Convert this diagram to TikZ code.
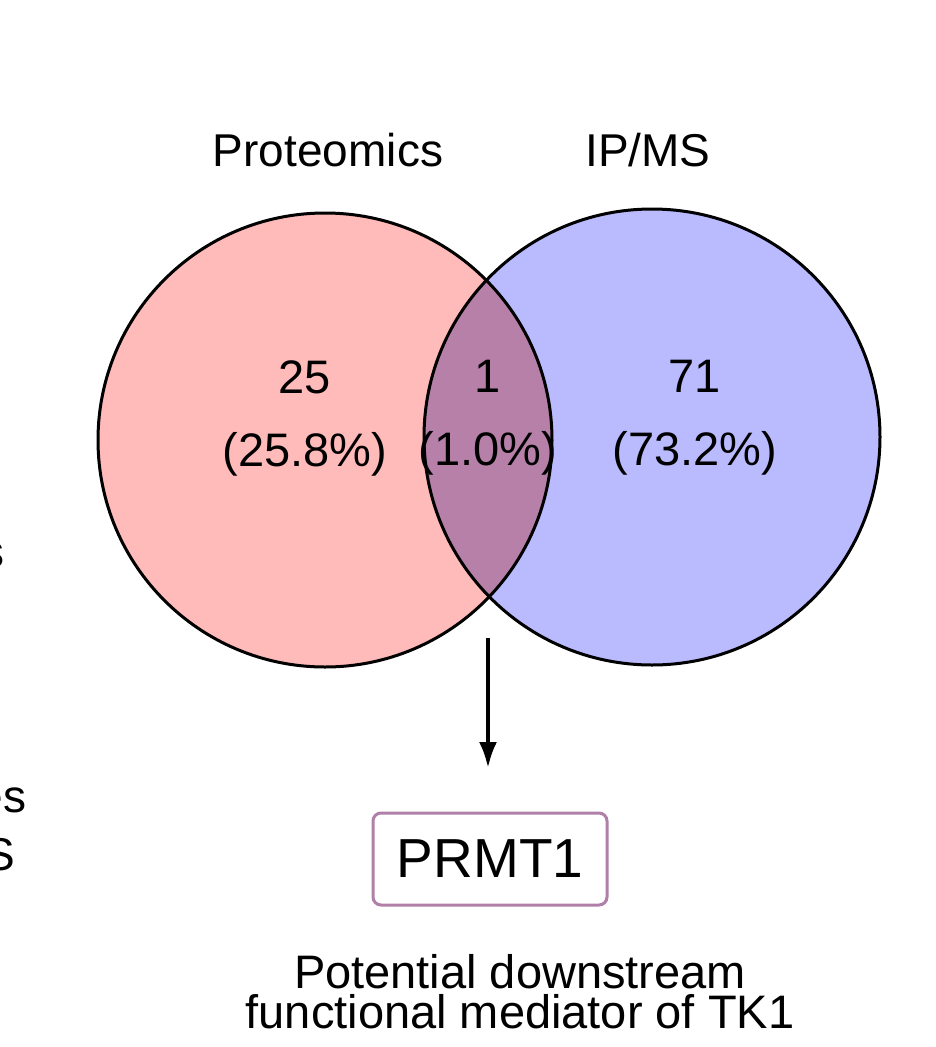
\documentclass[tikz,border=0pt]{standalone}
\usepackage{fontspec}
\setmainfont{Liberation Sans}
\usetikzlibrary{arrows.meta}
\begin{document}
\begin{tikzpicture}[x=1pt,y=-1pt,
  lab/.style={font=\fontsize{46}{50}\selectfont},
  num/.style={font=\fontsize{47}{73}\selectfont,align=center},
  frag/.style={anchor=east,font=\fontsize{46}{50}\selectfont},
  circ/.style={line width=3pt}]
\useasboundingbox (0,0) rectangle (935,1047);
\clip (0,0) rectangle (935,1047);
\fill[white] (0,0) rectangle (935,1047);
\fill[red!27!white] (325,440) circle (227);
\fill[blue!27!white] (652,437) circle (228);
\begin{scope}
\clip (325,440) circle (227);
\fill[fill={rgb,255:red,182;green,128;blue,168}] (652,437) circle (228);
\end{scope}
\draw[circ] (325,440) circle (227);
\draw[circ] (652,437) circle (228);
\node[lab] (p) at (328,150) {Proteomics};
\node[lab] (i) at (648,150) {IP/MS};
\node[num] (a) at (305,418) {25\\(25.8\%)};
\node[num] (b) at (488,418) {1\\(1.0\%)};
\node[num] (c) at (695,418) {71\\(73.2\%)};
\coordinate (s) at (488,638);
\node[draw={rgb,255:red,176;green,128;blue,168},line width=3pt,rounded corners=8pt,minimum width=234,minimum height=92,font=\fontsize{55}{60}\selectfont] (box) at (490,859) {PRMT1};
\draw[line width=4pt,-{Latex[length=26pt,width=18pt]}] (s) -- (488,768);
\node[font=\fontsize{47}{40}\selectfont,align=center] (t) at (520,992) {Potential downstream\\functional mediator of TK1};
\node[frag] (f1) at (8,555) {s};
\node[frag] (f2) at (30,800) {es};
\node[frag] (f3) at (19,855) {S};
\end{tikzpicture}
\end{document}
